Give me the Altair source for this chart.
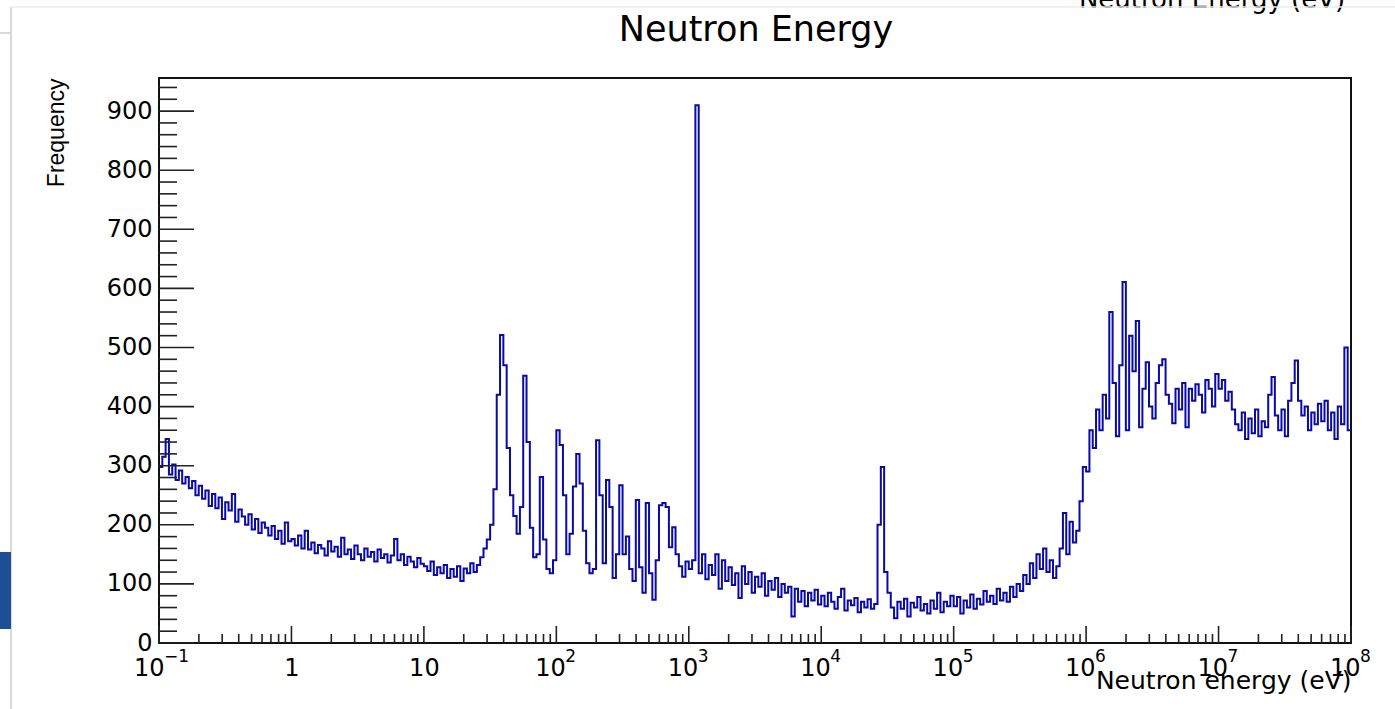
import altair as alt
import pandas as pd

# ---------------- data ----------------
E_MIN_EXP = -1            # first bin edge = 10^-1 eV
BINS_PER_DECADE = 40      # logarithmic binning

counts_0p1_1 = [298, 315, 345, 285, 302, 276, 292, 270, 281, 262, 274, 250, 266, 244, 258, 232, 252, 228, 246, 210,
                238, 224, 252, 205, 226, 214, 200, 218, 192, 210, 186, 204, 195, 182, 198, 176, 190, 168, 204, 172]
counts_1_10 = [176, 165, 182, 160, 190, 158, 170, 152, 166, 160, 148, 172, 155, 163, 146, 178, 150, 158, 142, 165,
               150, 140, 160, 146, 154, 138, 158, 144, 150, 136, 148, 176, 140, 150, 132, 146, 138, 128, 144, 134]
counts_10_1e2 = [130, 122, 138, 115, 128, 118, 132, 110, 125, 112, 130, 105, 126, 118, 135, 120, 132, 145, 160, 175,
                 200, 260, 420, 521, 470, 330, 250, 215, 185, 230, 452, 340, 195, 145, 150, 281, 175, 125, 118, 140]
counts_1e2_1e3 = [360, 335, 250, 150, 185, 265, 320, 270, 190, 135, 118, 125, 343, 250, 135, 276, 230, 110, 150, 267,
                  150, 180, 125, 105, 242, 128, 85, 237, 118, 73, 140, 233, 237, 230, 162, 196, 150, 130, 112, 138]
counts_1e3_1e4 = [125, 140, 910, 118, 150, 108, 132, 115, 150, 92, 140, 105, 128, 98, 118, 76, 130, 100, 120, 85,
                  112, 95, 118, 80, 105, 90, 110, 78, 100, 85, 95, 45, 92, 70, 88, 62, 85, 72, 90, 65]
counts_1e4_1e5 = [80, 62, 85, 70, 58, 78, 92, 55, 72, 64, 76, 52, 70, 60, 74, 58, 66, 200, 298, 120,
                  85, 60, 42, 70, 58, 75, 45, 68, 60, 78, 55, 66, 50, 72, 58, 85, 52, 70, 62, 80]
counts_1e5_1e6 = [62, 78, 50, 72, 60, 82, 58, 75, 65, 88, 70, 80, 66, 92, 72, 85, 70, 95, 78, 100,
                  88, 115, 100, 135, 110, 150, 125, 160, 120, 140, 110, 130, 160, 220, 150, 205, 170, 190, 240, 298]
counts_1e6_1e7 = [290, 360, 330, 395, 360, 420, 380, 560, 440, 350, 470, 611, 360, 520, 460, 545, 365, 430, 475, 400,
                  380, 440, 470, 480, 420, 405, 372, 430, 395, 440, 365, 430, 410, 438, 420, 390, 445, 430, 400, 455]
counts_1e7_1e8 = [430, 445, 410, 425, 395, 370, 360, 390, 345, 380, 355, 395, 350, 375, 365, 420, 450, 385, 360, 395,
                  350, 410, 440, 478, 410, 385, 400, 360, 390, 370, 405, 375, 410, 360, 390, 345, 400, 370, 500, 360]

x_tick_values = [0.1, 1, 10, 1e2, 1e3, 1e4, 1e5, 1e6, 1e7, 1e8]
x_tick_bases = ["10", "1", "10", "10", "10", "10", "10", "10", "10", "10"]
x_tick_sups = ["−1", "", "", "2", "3", "4", "5", "6", "7", "8"]
y_tick_values = [0, 100, 200, 300, 400, 500, 600, 700, 800, 900]
y_max = 956

# ---------------- build tables ----------------
counts = (counts_0p1_1 + counts_1_10 + counts_10_1e2 + counts_1e2_1e3 + counts_1e3_1e4 +
          counts_1e4_1e5 + counts_1e5_1e6 + counts_1e6_1e7 + counts_1e7_1e8)
edges = [10 ** (E_MIN_EXP + i / BINS_PER_DECADE) for i in range(len(counts) + 1)]
hist = pd.DataFrame({"energy": edges, "freq": counts + [counts[-1]]})

x_minor = [m * d for d in x_tick_values[:-1] for m in range(2, 10)]
y_minor = [v for v in range(0, y_max, 20) if v % 100 != 0]
sup_df = pd.DataFrame({"energy": x_tick_values, "sup": x_tick_sups})
sup_neg = sup_df[sup_df["energy"] < 1]
sup_pos = sup_df[sup_df["energy"] > 10]

W, H = 1192, 565
BLUE = "#0a0aa6"

x_scale = alt.Scale(type="log", domain=[0.1, 1e8], nice=False)
y_scale = alt.Scale(domain=[0, y_max], nice=False, zero=True)

label_expr = "[" + ",".join("'%s'" % s for s in x_tick_bases) + "][round(log(datum.value)/LN10)+1]"
SUP_POS_DX = 9
SUP_NEG_DX = 5

x_axis = alt.Axis(values=x_tick_values, labelExpr=label_expr, grid=False, ticks=False, domain=False,
                  labelFont="DejaVu Sans", labelFontSize=24, labelColor="black", labelPadding=13,
                  labelFlush=False, labelOverlap=False,
                  labelAlign={"condition": {"test": "datum.value < 1 || datum.value > 10", "value": "right"},
                              "value": "center"},
                  labelOffset={"condition": [{"test": "datum.value < 1", "value": SUP_NEG_DX},
                                             {"test": "datum.value > 10", "value": SUP_POS_DX}],
                               "value": 0},
                  title="Neutron energy (eV)", titleFont="DejaVu Sans", titleFontSize=25,
                  titleFontWeight="normal", titleColor="black", titleX=W, titleY=45,
                  titleAlign="right", titleBaseline="alphabetic")
y_axis = alt.Axis(values=y_tick_values, grid=False, ticks=False, domain=False,
                  labelFont="DejaVu Sans", labelFontSize=24, labelColor="black", labelPadding=7,
                  title="Frequency", titleFont="Liberation Sans", titleFontSize=23,
                  titleFontWeight="normal", titleColor="black", titleX=-96, titleY=0, titleAngle=270,
                  titleAlign="right", titleBaseline="alphabetic")

X = alt.X("energy:Q", scale=x_scale, axis=x_axis)
Y = alt.Y("freq:Q", scale=y_scale, axis=y_axis)

line = alt.Chart(hist).mark_line(interpolate="step-after", color=BLUE, strokeWidth=2, clip=True).encode(x=X, y=Y)

tick_color = "#222222"
x_major = alt.Chart(pd.DataFrame({"energy": x_tick_values})).mark_rule(color=tick_color, strokeWidth=1.6).encode(
    x=X, y=alt.value(H), y2=alt.value(H - 17))
x_min = alt.Chart(pd.DataFrame({"energy": x_minor})).mark_rule(color=tick_color, strokeWidth=1.6).encode(
    x=X, y=alt.value(H), y2=alt.value(H - 9))
y_major = alt.Chart(pd.DataFrame({"freq": y_tick_values})).mark_rule(color=tick_color, strokeWidth=1.6).encode(
    y=Y, x=alt.value(0), x2=alt.value(35))
y_min = alt.Chart(pd.DataFrame({"freq": y_minor})).mark_rule(color=tick_color, strokeWidth=1.6).encode(
    y=Y, x=alt.value(0), x2=alt.value(18))

# exponents of the decade labels
sup_style = dict(font="DejaVu Sans", fontSize=17, align="left", baseline="alphabetic", color="black")
sup_p = alt.Chart(sup_pos).mark_text(dx=SUP_POS_DX, **sup_style).encode(
    x=X, y=alt.value(H + 19), text="sup:N")
sup_n = alt.Chart(sup_neg).mark_text(dx=SUP_NEG_DX, **sup_style).encode(
    x=X, y=alt.value(H + 19), text="sup:N")

one = pd.DataFrame({"k": [0]})
title = alt.Chart(one).mark_text(font="DejaVu Sans", fontSize=35, align="center", baseline="alphabetic",
                                 color="black").encode(
    x=alt.value(W / 2 + 1), y=alt.value(-37), text=alt.value("Neutron Energy"))
# screenshot surroundings: cropped heading at the top right and window edges
cut_text = alt.Chart(one).mark_text(font="DejaVu Sans", fontSize=26, align="center", baseline="alphabetic",
                                    color="black").encode(
    x=alt.value(1053), y=alt.value(-70), text=alt.value("Neutron Energy (eV)"))
edge_v = alt.Chart(one).mark_rule(color="#cccccc", strokeWidth=1.5).encode(
    x=alt.value(-148), y=alt.value(-71), y2=alt.value(631))
edge_h = alt.Chart(one).mark_rule(color="#ececec", strokeWidth=1.5).encode(
    x=alt.value(-148), x2=alt.value(1236), y=alt.value(-71))
edge_s = alt.Chart(one).mark_rule(color="#cccccc", strokeWidth=1.5).encode(
    x=alt.value(-159), x2=alt.value(-148), y=alt.value(-45))
logo = alt.Chart(one).mark_rect(color="#1d4f95").encode(
    x=alt.value(-159), x2=alt.value(-148), y=alt.value(474), y2=alt.value(551))

chart = alt.layer(line, x_major, x_min, y_major, y_min, sup_p, sup_n, title, cut_text,
                  edge_v, edge_h, edge_s, logo).properties(
    width=W, height=H,
    background="white",
    autosize=alt.AutoSizeParams(type="none"),
    padding={"left": 159, "top": 78, "right": 44, "bottom": 66},
).configure_view(stroke="#111111", strokeWidth=2)

chart.save("out.html", embed_options={"renderer": "svg", "actions": False})
